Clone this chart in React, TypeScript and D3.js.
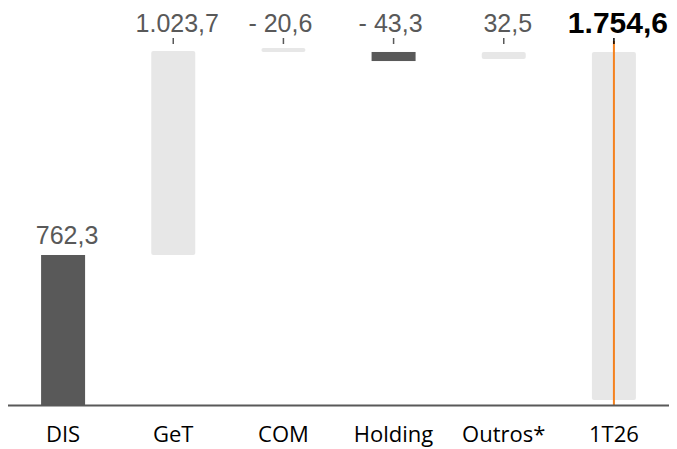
import React from "react";
import * as d3 from "d3";

const categories = ["DIS", "GeT", "COM", "Holding", "Outros*", "1T26"];
const valueLabels = ["762,3", "1.023,7", "- 20,6", "- 43,3", "32,5", "1.754,6"];
const values = [762.3, 1023.7, -20.6, -43.3, 32.5, 1754.6];
// bar extents as drawn in the picture (value units)
const barFrom = [0, 762.3, 1794, 1794, 1794, 25];
const barTo = [762.3, 1799, 1814, 1748, 1758, 1794];
const dark = [true, false, false, true, false, false];
const isTotal = [false, false, false, false, false, true];

const W = 677;
const H = 449;

export default function App() {
  const x = d3.scalePoint<string>().domain(categories).range([8, 669]).padding(0.5);
  const y = d3.scaleLinear().domain([0, 1799]).range([405, 51]);
  const bw = 44;
  const textCol = "#595959";

  return (
    <svg
      width={W}
      height={H}
      style={{ position: "absolute", left: 0, top: 0, display: "block", background: "#fff" }}
    >
      {categories.map((c, i) => {
        const cx = x(c)!;
        const y0 = y(barFrom[i]);
        const y1 = y(barTo[i]);
        const top = Math.min(y0, y1);
        const h = Math.abs(y0 - y1);
        return (
          <rect
            key={"b" + c}
            x={cx - bw / 2}
            y={top}
            width={bw}
            height={h}
            rx={dark[i] ? 0 : 2}
            fill={dark[i] ? "#595959" : "#e7e7e7"}
          />
        );
      })}
      {categories.map((c, i) => {
        if (!isTotal[i]) return null;
        const cx = x(c)!;
        return (
          <line
            key={"o" + c}
            x1={cx}
            x2={cx}
            y1={41}
            y2={405}
            stroke="#f5821f"
            strokeWidth={2}
          />
        );
      })}
      <line x1={8} x2={669} y1={405.5} y2={405.5} stroke="#595959" strokeWidth={2} />
      {categories.map((c, i) => {
        const cx = x(c)!;
        const dx = values[i] < 0 ? -3 : 4;
        if (i === 0) {
          return (
            <text
              key={"l" + c}
              x={cx + dx}
              y={y(barTo[i]) - 11}
              textAnchor="middle"
              fontFamily="'Liberation Sans', Arial, sans-serif"
              fontSize={25}
              fill={textCol}
            >
              {valueLabels[i]}
            </text>
          );
        }
        return (
          <g key={"l" + c}>
            <line x1={cx} x2={cx} y1={38} y2={44} stroke={isTotal[i] ? "#000" : textCol} strokeWidth={1.5} />
            <text
              x={cx + dx}
              y={isTotal[i] ? 33 : 32}
              textAnchor="middle"
              fontFamily="'Liberation Sans', Arial, sans-serif"
              fontSize={isTotal[i] ? 30 : 25}
              fontWeight={isTotal[i] ? "bold" : "normal"}
              fill={isTotal[i] ? "#000" : textCol}
            >
              {valueLabels[i]}
            </text>
          </g>
        );
      })}
      {categories.map((c) => (
        <text
          key={"c" + c}
          x={x(c)!}
          y={442}
          textAnchor="middle"
          fontFamily="'Open Sans', sans-serif"
          fontSize={22}
          fill="#000"
        >
          {c}
        </text>
      ))}
    </svg>
  );
}
